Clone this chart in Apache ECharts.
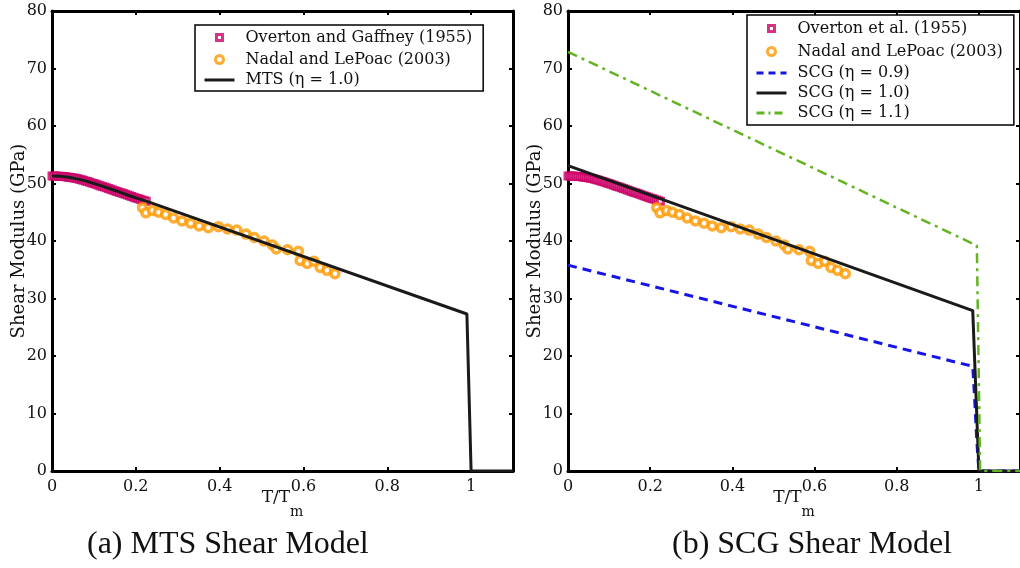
<!DOCTYPE html>
<html>
<head>
<meta charset="utf-8">
<script src="https://cdn.jsdelivr.net/npm/echarts@6/dist/echarts.min.js"></script>
<style>
  html, body { margin: 0; padding: 0; background: #fff; }
  #chart { width: 1020px; height: 568px; }
</style>
</head>
<body>
<div id="chart"></div>
<script>
// Overton & Gaffney (1955) measurements: T/Tm and shear modulus (GPa)
const overtonT = [0, 0.005, 0.01, 0.015, 0.02, 0.025, 0.03, 0.035, 0.04, 0.045, 0.05, 0.055,
                  0.06, 0.065, 0.07, 0.075, 0.08, 0.085, 0.09, 0.095, 0.10, 0.105, 0.11, 0.115,
                  0.12, 0.125, 0.13, 0.135, 0.14, 0.145, 0.15, 0.155, 0.16, 0.165, 0.17, 0.175,
                  0.18, 0.185, 0.19, 0.195, 0.20, 0.205, 0.21, 0.215, 0.22, 0.225];
const overtonG = [51.3, 51.3, 51.3, 51.28, 51.25, 51.22, 51.2, 51.15, 51.1, 51.05, 51.0, 50.93,
                  50.85, 50.75, 50.65, 50.55, 50.45, 50.33, 50.2, 50.1, 50.0, 49.88, 49.75, 49.63,
                  49.5, 49.38, 49.25, 49.13, 49.0, 48.88, 48.75, 48.63, 48.5, 48.38, 48.25, 48.13,
                  48.0, 47.88, 47.75, 47.63, 47.5, 47.38, 47.25, 47.12, 47.0, 46.9];

// Nadal & LePoac (2003) measurements
const nadalT = [0.216, 0.224, 0.240, 0.254, 0.271, 0.290, 0.310, 0.331, 0.351, 0.373, 0.397,
                0.419, 0.441, 0.463, 0.483, 0.506, 0.526, 0.535, 0.562, 0.588, 0.592, 0.609,
                0.625, 0.640, 0.656, 0.675];
const nadalG = [45.8, 44.9, 45.3, 45.0, 44.6, 44.0, 43.5, 43.1, 42.6, 42.3, 42.5,
                42.1, 41.9, 41.2, 40.6, 40.0, 39.3, 38.6, 38.5, 38.2, 36.6, 36.1,
                36.5, 35.4, 34.9, 34.3];

// MTS shear model (eta = 1.0)
const mtsT = [0, 0.02, 0.04, 0.06, 0.08, 0.10, 0.12, 0.14, 0.16, 0.18, 0.20, 0.23, 0.99, 1.0, 1.1];
const mtsG = [51.3, 51.25, 51.1, 50.8, 50.45, 50.0, 49.55, 49.05, 48.55, 48.0, 47.5, 46.8, 27.3, 0, 0];

// SCG shear model for three values of eta
const scg09T = [0, 0.985, 0.99, 0.995, 1.0, 1.1];
const scg09G = [35.8, 18.2, 12.0, 5.0, 0, 0];
const scg10T = [0, 0.985, 1.0, 1.1];
const scg10G = [53.1, 27.9, 0, 0];
const scg11T = [0, 0.995, 1.003, 1.1];
const scg11G = [72.9, 39.2, 0, 0];

// Axis ticks
const xTicks = { min: 0, max: 1.1, interval: 0.2 };
const yTicks = { min: 0, max: 80, interval: 10 };

const zip = (xs, ys) => xs.map((x, i) => [x, ys[i]]);

const SERIF = 'DejaVu Serif';
const INK = '#111';
const MAGENTA = '#CC0066';
const ORANGE = '#FF9900';

// Legend glyphs drawn inside a 30x16 box (corner specks fix the box size)
const BOX = 'M0,0L0.01,0M30,16L30.01,16';
const ICON_SQUARE = 'path://' + BOX + 'M12,5L18,5L18,11L12,11Z';
const ICON_RING = 'path://' + BOX + 'M15,4A4,4,0,1,1,14.99,4Z';

function xAxes(gridIndex) {
  return [
    {
      gridIndex, type: 'value', position: 'bottom',
      min: xTicks.min, max: xTicks.max, interval: xTicks.interval,
      axisLine: { onZero: false, lineStyle: { color: '#000', width: 3 } },
      axisTick: { inside: true, length: 4, lineStyle: { color: '#000', width: 2 } },
      axisLabel: { color: INK, fontFamily: SERIF, fontSize: 16, margin: 8, showMaxLabel: false },
      splitLine: { show: false },
      name: '{a|T/T}{s|m}', nameLocation: 'middle', nameGap: 25, nameMoveOverlap: false,
      nameTextStyle: {
        rich: {
          a: { fontFamily: SERIF, fontSize: 17, color: INK, lineHeight: 18, padding: [0, 0, 14, 0] },
          s: { fontFamily: SERIF, fontSize: 14, color: INK, lineHeight: 18, padding: [14, 0, 0, 0] }
        }
      }
    },
    {
      gridIndex, type: 'value', position: 'top',
      min: xTicks.min, max: xTicks.max, interval: xTicks.interval,
      axisLine: { onZero: false, lineStyle: { color: '#000', width: 3 } },
      axisTick: { inside: true, length: 4, lineStyle: { color: '#000', width: 2 } },
      axisLabel: { show: false },
      splitLine: { show: false }
    }
  ];
}

function yAxes(gridIndex) {
  return [
    {
      gridIndex, type: 'value', position: 'left',
      min: yTicks.min, max: yTicks.max, interval: yTicks.interval,
      axisLine: { onZero: false, lineStyle: { color: '#000', width: 3 } },
      axisTick: { inside: true, length: 4, lineStyle: { color: '#000', width: 2 } },
      axisLabel: { color: INK, fontFamily: SERIF, fontSize: 16, margin: 5 },
      splitLine: { show: false },
      name: 'Shear Modulus (GPa)', nameLocation: 'middle', nameGap: 24, nameMoveOverlap: false,
      nameTextStyle: { fontFamily: SERIF, fontSize: 18, color: INK }
    },
    {
      gridIndex, type: 'value', position: 'right',
      min: yTicks.min, max: yTicks.max, interval: yTicks.interval,
      axisLine: { onZero: false, lineStyle: { color: '#000', width: 3 } },
      axisTick: { inside: true, length: 4, lineStyle: { color: '#000', width: 2 } },
      axisLabel: { show: false },
      splitLine: { show: false }
    }
  ];
}

function overtonSeries(name, gi) {
  return {
    name, type: 'scatter', xAxisIndex: gi * 2, yAxisIndex: gi * 2,
    data: zip(overtonT, overtonG), symbol: 'rect', symbolSize: 6,
    itemStyle: { color: '#fff', borderColor: MAGENTA, borderWidth: 3 },
    z: 3
  };
}
function nadalSeries(gi) {
  return {
    name: 'Nadal and LePoac (2003)', type: 'scatter', xAxisIndex: gi * 2, yAxisIndex: gi * 2,
    data: zip(nadalT, nadalG), symbol: 'circle', symbolSize: 8,
    itemStyle: { color: '#fff', borderColor: ORANGE, borderWidth: 3.5 },
    z: 3
  };
}
function lineSeries(name, gi, xs, ys, color, type, width) {
  return {
    name, type: 'line', xAxisIndex: gi * 2, yAxisIndex: gi * 2,
    data: zip(xs, ys), symbol: 'none', showSymbol: false, smooth: false,
    lineStyle: { color, type, width },
    itemStyle: { color },
    z: 4
  };
}

const legendCommon = {
  orient: 'vertical',
  backgroundColor: '#fff',
  borderColor: '#000', borderWidth: 1.5, borderRadius: 0,
  padding: [3, 11, 3, 8],
  itemGap: 3, itemWidth: 30, itemHeight: 16,
  textStyle: { fontFamily: SERIF, fontSize: 16, lineHeight: 16, color: INK, padding: [0, 0, 0, 6] },
  selectedMode: false
};

const scatterItem = (name, icon, color) => ({
  name, icon, itemStyle: { color: '#fff', borderColor: color, borderWidth: 3 }
});
const lineItem = (name, color, type) => ({
  name, itemStyle: { opacity: 0 }, lineStyle: { color, type, width: 3 }
});

const option = {
  animation: false,
  backgroundColor: '#fff',
  grid: [
    { left: 52, top: 11, width: 461, height: 460 },
    { left: 568, top: 11, width: 460, height: 460 }
  ],
  xAxis: [...xAxes(0), ...xAxes(1)],
  yAxis: [...yAxes(0), ...yAxes(1)],
  legend: [
    Object.assign({}, legendCommon, {
      left: 195, top: 25,
      data: [
        scatterItem('Overton and Gaffney (1955)', ICON_SQUARE, MAGENTA),
        scatterItem('Nadal and LePoac (2003)', ICON_RING, ORANGE),
        lineItem('MTS (η = 1.0)', '#1a1a1a', 'solid')
      ]
    }),
    Object.assign({}, legendCommon, {
      left: 747, top: 15, itemGap: 4, padding: [4, 11, 4, 8],
      data: [
        scatterItem('Overton et al. (1955)', ICON_SQUARE, MAGENTA),
        scatterItem('Nadal and LePoac (2003)', ICON_RING, ORANGE),
        lineItem('SCG (η = 0.9)', '#1515E6', [7, 5]),
        lineItem('SCG (η = 1.0)', '#1a1a1a', 'solid'),
        lineItem('SCG (η = 1.1)', '#62B422', [8, 4, 2, 4])
      ]
    })
  ],
  series: [
    overtonSeries('Overton and Gaffney (1955)', 0),
    nadalSeries(0),
    lineSeries('MTS (η = 1.0)', 0, mtsT, mtsG, '#1a1a1a', 'solid', 3),

    overtonSeries('Overton et al. (1955)', 1),
    nadalSeries(1),
    lineSeries('SCG (η = 0.9)', 1, scg09T, scg09G, '#1515E6', [9, 6], 3),
    lineSeries('SCG (η = 1.0)', 1, scg10T, scg10G, '#1a1a1a', 'solid', 3),
    lineSeries('SCG (η = 1.1)', 1, scg11T, scg11G, '#62B422', [10, 5, 3, 5], 2.5)
  ],
  graphic: [
    { type: 'text', left: 87, top: 529, style: { text: '(a) MTS Shear Model', font: '32px "Liberation Serif"', fill: '#111' } },
    { type: 'text', left: 672, top: 529, style: { text: '(b) SCG Shear Model', font: '32px "Liberation Serif"', fill: '#111' } }
  ]
};

const chart = echarts.init(document.getElementById('chart'), null, { renderer: 'canvas' });
chart.setOption(option);
</script>
</body>
</html>
